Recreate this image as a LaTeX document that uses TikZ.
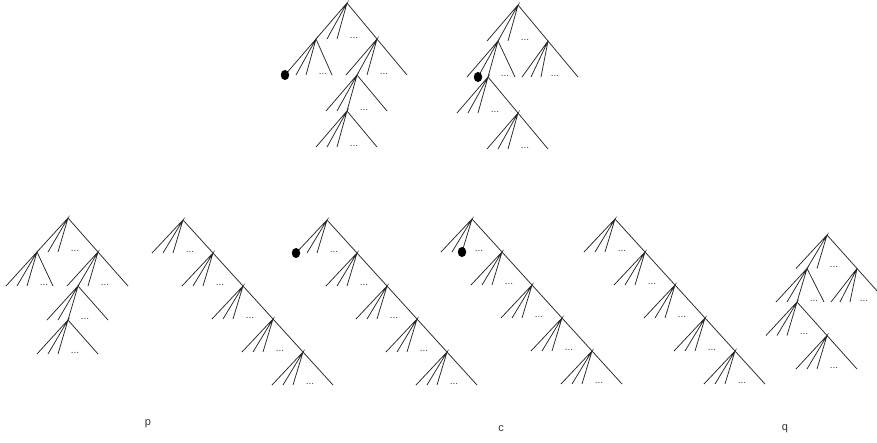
\documentclass[tikz,border=0pt]{standalone}
\usepackage{fontspec}
\setmainfont{Liberation Sans}
\usetikzlibrary{shapes.geometric}
\tikzset{
  branch/.style={line width=0.75pt, black!85},
  ell/.style={font=\fontsize{10}{10}\selectfont, anchor=base, inner sep=0pt, text=black!75},
  leafdot/.style={ellipse, fill=black, inner sep=0pt, minimum width=8.5pt, minimum height=10pt},
  lbl/.style={font=\fontsize{11}{11}\selectfont, inner sep=0pt, text=black!80}
}
\newcommand\fdy{36}
\newcommand\fla{-31}
\newcommand\flb{-20}
\newcommand\flc{-10}
% \fan[right dx]{name}{(root position)}
\newcommand\fan[3][30]{%
  \coordinate (#2) at #3;
  \path (#2) ++(\fla,\fdy) coordinate (#2a)
        (#2) ++(\flb,\fdy) coordinate (#2b)
        (#2) ++(\flc,\fdy) coordinate (#2c)
        (#2) ++(#1,\fdy) coordinate (#2d);
  \draw[branch] (#2a) -- (#2) -- (#2b) (#2c) -- (#2) -- (#2d);
  \path (#2) ++(7,\fdy-1) node[ell] {...};
}
% narrow variant of the left children
\newcommand\narrowfan[2]{%
  \renewcommand\fla{-26}\renewcommand\flb{-17}\renewcommand\flc{-7}%
  \fan{#1}{#2}%
  \renewcommand\fla{-31}\renewcommand\flb{-20}\renewcommand\flc{-10}%
}
\begin{document}
\begin{tikzpicture}[x=1pt,y=-1pt]
\clip (0,0) rectangle (877,442);
% ---------- top tree 1 ----------
\renewcommand\fdy{36}
\fan{T}{(347,3)}
\fan[16]{Tl}{(Ta)}
\fan{Tr}{(Td)}
\fan{Trm}{(Trb)}
\fan{Trmx}{(Trmc)}
\node[leafdot] (k1) at (Tla) {};
% ---------- top tree 2 ----------
\fan{U}{(518,5)}
\fan[17]{Ul}{(Ub)}
\narrowfan{Ur}{(Ud)}
\fan{Ulx}{(Ulc)}
\fan{Ulxy}{(Ulxd)}
\node[leafdot] (k2) at (Ulb) {};
% ---------- bottom left tree ----------
\renewcommand\fdy{34}
\fan{B}{(68,218)}
\fan[16]{Bl}{(Ba)}
\fan{Br}{(Bd)}
\fan{Brm}{(Brb)}
\fan{Brmx}{(Brmc)}
% ---------- bottom right tree ----------
\renewcommand\fdy{33.5}
\fan{Q}{(827,235)}
\fan[17]{Ql}{(Qb)}
\narrowfan{Qr}{(Qd)}
\fan{Qlx}{(Qlc)}
\fan{Qlxy}{(Qlxd)}
% ---------- chains ----------
\renewcommand\fdy{33}
\fan{Ca}{(183,220)}
\fan{Cb}{(Cad)}
\fan{Cc}{(Cbd)}
\fan{Cd}{(Ccd)}
\fan{Ce}{(Cdd)}
%
\fan{Da}{(327,220)}
\fan{Db}{(Dad)}
\fan{Dc}{(Dbd)}
\fan{Dd}{(Dcd)}
\fan{De}{(Ddd)}
\node[leafdot] (k3) at (Daa) {};
%
\fan{Ea}{(472,219)}
\fan{Eb}{(Ead)}
\fan{Ec}{(Ebd)}
\fan{Ed}{(Ecd)}
\fan{Ee}{(Edd)}
\node[leafdot] (k4) at (Eac) {};
%
\fan{Fa}{(615,219)}
\fan{Fb}{(Fad)}
\fan{Fc}{(Fbd)}
\fan{Fd}{(Fcd)}
\fan{Fe}{(Fdd)}
% ---------- labels ----------
\node[lbl] (lp) at (148,423.5) {p};
\node[lbl] (lc) at (501,428.5) {c};
\node[lbl] (lq) at (785,429) {q};
\end{tikzpicture}
\end{document}
